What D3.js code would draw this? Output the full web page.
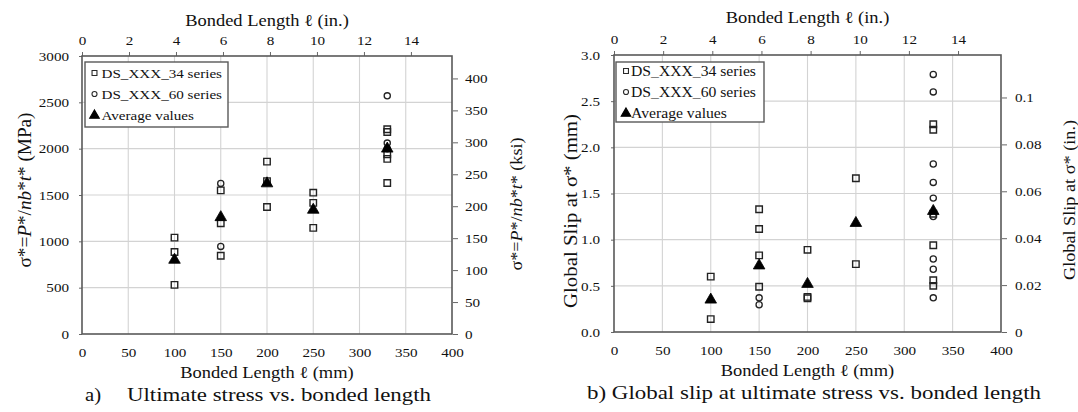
<!DOCTYPE html>
<html>
<head>
<meta charset="utf-8">
<script src="https://cdn.jsdelivr.net/npm/d3@7"></script>
<style>
  body { margin: 0; background: #fff; }
  svg { display: block; font-family: "Liberation Serif", "Times New Roman", serif; }
</style>
</head>
<body>
<svg id="fig" width="1078" height="412"></svg>
<script>
// Bonded lengths tested (mm)
const lengthsMM = [100, 150, 200, 250, 330];

// Ultimate stress sigma* (MPa), one list per bonded length
const stress34 = [[1040, 885, 530], [1550, 1195, 845], [1860, 1650, 1370], [1525, 1415, 1145], [2210, 2180, 1940, 1890, 1630]];
const stress60 = [[], [1625, 945], [], [], [2570, 2060, 2000]];
const stressAvg = [810, 1270, 1635, 1350, 2010];

// Global slip at sigma* (mm), one list per bonded length
const slip34 = [[0.60, 0.14], [1.33, 1.115, 0.83, 0.49], [0.89, 0.38, 0.365], [1.665, 0.735], [2.25, 2.19, 1.28, 0.94, 0.56, 0.50]];
const slip60 = [[], [0.37, 0.295], [], [], [2.79, 2.60, 1.82, 1.62, 1.45, 1.25, 0.79, 0.68, 0.37]];
const slipAvg = [0.36, 0.73, 0.53, 1.19, 1.32];

// Tick labels
const mmTicks = [0, 50, 100, 150, 200, 250, 300, 350, 400];
const inchTicks = [0, 2, 4, 6, 8, 10, 12, 14];
const stressTicks = [0, 500, 1000, 1500, 2000, 2500, 3000];
const ksiTicks = [0, 50, 100, 150, 200, 250, 300, 350, 400];
const slipTicks = [0, 0.5, 1.0, 1.5, 2.0, 2.5, 3.0];
const slipInTicks = [0, 0.02, 0.04, 0.06, 0.08, 0.1];
const legendLabels = ["DS_XXX_34 series", "DS_XXX_60 series", "Average values"];

const MM_PER_IN = 25.4;
const MPA_PER_KSI = 6.894757;
const INK = "#111";
const SX = 1.12;   // horizontal widening of lettering

const svg = d3.select("#fig");

function flat(groups) {
  const out = [];
  groups.forEach((vals, i) => vals.forEach(v => out.push({ x: lengthsMM[i], y: v })));
  return out;
}

// Plain horizontal label with widened glyphs
function label(g, x, y, str, size, anchor) {
  return g.append("text")
    .attr("transform", `translate(${x},${y}) scale(${SX},1)`)
    .attr("text-anchor", anchor || "middle")
    .attr("fill", INK)
    .style("font-size", size + "px")
    .text(str);
}

// Vertical axis title (reads bottom to top); parts = [[text, italic], ...]
function vtitle(g, cx, cy, parts, size, len) {
  const t = g.append("text")
    .attr("transform", `translate(${cx},${cy}) scale(${SX},1) rotate(-90)`)
    .attr("text-anchor", "middle")
    .attr("dy", "0.34em")
    .attr("fill", INK)
    .attr("textLength", len)
    .attr("lengthAdjust", "spacingAndGlyphs")
    .style("font-size", size + "px");
  parts.forEach(([s, it]) => t.append("tspan").style("font-style", it ? "italic" : "normal").text(s));
  return t;
}

function panel(cfg) {
  const g = svg.append("g");
  const { left, right, top, bottom } = cfg.box;

  const x = d3.scaleLinear().domain([0, 400]).range([left, right]);
  const xIn = d3.scaleLinear().domain([0, 400 / MM_PER_IN]).range([left, right]);
  const y = d3.scaleLinear().domain([0, cfg.yMax]).range([bottom, top]);
  const y2 = d3.scaleLinear().domain([0, cfg.yMax / cfg.y2Factor]).range([bottom, top]);

  // gridlines
  const grid = g.append("g").attr("stroke", "#d3d3d3").attr("stroke-width", 1.1);
  grid.selectAll(".gx").data(mmTicks.filter(d => d > 0 && d < 400)).join("line")
    .attr("x1", d => x(d)).attr("x2", d => x(d)).attr("y1", top).attr("y2", bottom);
  grid.selectAll(".gy").data(cfg.yTicks.filter(d => d > 0 && d < cfg.yMax)).join("line")
    .attr("y1", d => y(d)).attr("y2", d => y(d)).attr("x1", left).attr("x2", right);

  const fs = 13.5;
  function tidy(ax) {
    ax.select(".domain").remove();
    ax.selectAll("line").attr("stroke", "#666").attr("stroke-width", 1);
    ax.selectAll("text").attr("fill", INK).style("font-size", fs + "px").style("font-family", null);
    ax.attr("font-family", null).attr("font-size", null);
  }

  // bottom axis (mm)
  const axB = g.append("g").attr("transform", `translate(0,${bottom})`)
    .call(d3.axisBottom(x).tickValues(mmTicks).tickSize(0).tickPadding(cfg.bottomPad).tickFormat(d3.format("d")));
  tidy(axB);
  axB.selectAll("text").attr("transform", `scale(${SX},1)`);

  // top axis (in.)
  const axT = g.append("g").attr("transform", `translate(0,${top})`)
    .call(d3.axisTop(xIn).tickValues(inchTicks).tickSize(4).tickPadding(cfg.topPad).tickFormat(d3.format("d")));
  tidy(axT);
  axT.selectAll("text").attr("transform", `scale(${SX},1)`);

  // left axis
  const axL = g.append("g").attr("transform", `translate(${left},0)`)
    .call(d3.axisLeft(y).tickValues(cfg.yTicks).tickSize(3).tickFormat(cfg.yFormat));
  tidy(axL);
  axL.selectAll("text").attr("x", -cfg.leftGap / SX).attr("transform", `scale(${SX},1)`);

  // right axis
  const axR = g.append("g").attr("transform", `translate(${right},0)`)
    .call(d3.axisRight(y2).tickValues(cfg.y2Ticks).tickSize(6).tickFormat(cfg.y2Format));
  tidy(axR);
  axR.selectAll("line").attr("x1", 1);
  axR.selectAll("text").attr("x", cfg.rightGap / SX).attr("transform", `scale(${SX},1)`);

  // plot frame
  g.append("rect").attr("x", left).attr("y", top).attr("width", right - left).attr("height", bottom - top)
    .attr("fill", "none").attr("stroke", "#595959").attr("stroke-width", 1.6);

  // markers
  const sq = d3.symbol(d3.symbolSquare, 42);
  const ci = d3.symbol(d3.symbolCircle, 30);
  const tri = d3.symbol(d3.symbolTriangle, 58);
  const pts = g.append("g");
  pts.selectAll(".s34").data(flat(cfg.s34)).join("path")
    .attr("d", sq).attr("transform", d => `translate(${x(d.x)},${y(d.y)})`)
    .attr("fill", "none").attr("stroke", "#222").attr("stroke-width", 1.4);
  pts.selectAll(".s60").data(flat(cfg.s60)).join("path")
    .attr("d", ci).attr("transform", d => `translate(${x(d.x)},${y(d.y)})`)
    .attr("fill", "none").attr("stroke", "#222").attr("stroke-width", 1.3);
  pts.selectAll(".avg").data(cfg.avg.map((v, i) => ({ x: lengthsMM[i], y: v }))).join("path")
    .attr("d", tri).attr("transform", d => `translate(${x(d.x)},${y(d.y) + 1})`)
    .attr("fill", "#000").attr("stroke", "#000").attr("stroke-width", 0.8);

  // legend
  const L = cfg.legend;
  const lg = g.append("g");
  lg.append("rect").attr("x", L.x).attr("y", L.y).attr("width", L.w).attr("height", L.h)
    .attr("fill", "#fff").attr("stroke", "#595959").attr("stroke-width", 1.4);
  const legSyms = [d3.symbol(d3.symbolSquare, 24), d3.symbol(d3.symbolCircle, 20), d3.symbol(d3.symbolTriangle, 40)];
  legendLabels.forEach((txt, i) => {
    const cy = L.y + L.row0 + i * L.step;
    lg.append("path").attr("d", legSyms[i]).attr("transform", `translate(${L.mx},${cy + (i === 2 ? 0.5 : 0)})`)
      .attr("fill", i === 2 ? "#000" : "none").attr("stroke", i === 2 ? "#000" : "#2a2a2a").attr("stroke-width", 1.1);
    label(lg, L.tx, cy + 4.6, txt, L.fs, "start");
  });

  // axis titles
  const mid = (left + right) / 2;
  label(g, mid, cfg.topTitleY, "Bonded Length \u2113 (in.)", 16.5);
  label(g, mid, cfg.bottomTitleY, "Bonded Length \u2113 (mm)", 16.5);
  cfg.titles(g);
  cfg.caption(g);
}

// a) ultimate stress
panel({
  box: { left: 82, right: 452, top: 56, bottom: 334 },
  yMax: 3000, y2Factor: MPA_PER_KSI,
  yTicks: stressTicks, y2Ticks: ksiTicks,
  yFormat: d3.format("d"), y2Format: d3.format("d"),
  s34: stress34, s60: stress60, avg: stressAvg,
  bottomPad: 13.5, topPad: 7, leftGap: 13, rightGap: 13,
  legend: { x: 85, y: 62, w: 143, h: 65, row0: 11, step: 21, mx: 94.5, tx: 101.5, fs: 13.5 },
  topTitleY: 26, bottomTitleY: 378,
  titles: g => {
    vtitle(g, 25, 190, [["\u03c3*=", false], ["P", true], ["*/", false], ["nb", true], ["*", false], ["t", true], ["* (MPa)", false]], 17, 155);
    vtitle(g, 516, 204, [["\u03c3*=", false], ["P", true], ["*/", false], ["nb", true], ["*", false], ["t", true], ["* (ksi)", false]], 15, 133);
  },
  caption: g => {
    label(g, 85, 401, "a)", 18.5, "start");
    g.append("text").attr("x", 127).attr("y", 401).attr("fill", INK).style("font-size", "18.5px")
      .attr("textLength", 304).attr("lengthAdjust", "spacingAndGlyphs").text("Ultimate stress vs. bonded length");
  }
});

// b) global slip
panel({
  box: { left: 614, right: 1001, top: 55, bottom: 332 },
  yMax: 3.0, y2Factor: MM_PER_IN,
  yTicks: slipTicks, y2Ticks: slipInTicks,
  yFormat: d3.format(".1f"), y2Format: d => (d === 0 ? "0" : d3.format("~g")(d)),
  s34: slip34, s60: slip60, avg: slipAvg,
  bottomPad: 13.5, topPad: 7, leftGap: 14, rightGap: 14,
  legend: { x: 616, y: 62, w: 148, h: 60, row0: 9, step: 21, mx: 626, tx: 631, fs: 14 },
  topTitleY: 23, bottomTitleY: 376,
  titles: g => {
    vtitle(g, 571, 211, [["Global Slip at \u03c3* (mm)", false]], 17, 194);
    vtitle(g, 1069, 200, [["Global Slip at \u03c3* (in.)", false]], 15, 160);
  },
  caption: g => {
    g.append("text").attr("x", 587).attr("y", 399).attr("fill", INK).style("font-size", "18.5px")
      .attr("textLength", 454).attr("lengthAdjust", "spacingAndGlyphs").text("b) Global slip at ultimate stress vs. bonded length");
  }
});
</script>
</body>
</html>
